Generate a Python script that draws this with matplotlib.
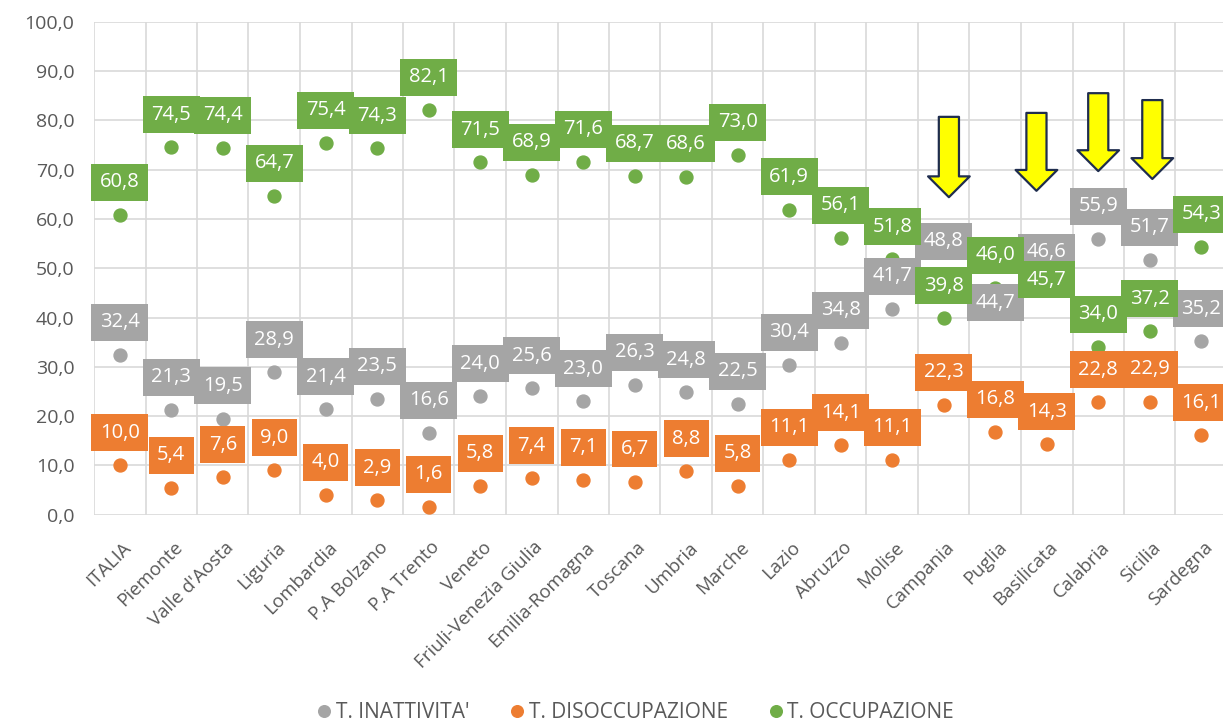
import matplotlib
matplotlib.use("Agg")
import matplotlib.pyplot as plt
from matplotlib.patches import FancyArrowPatch, ArrowStyle
from matplotlib.transforms import ScaledTranslation
from matplotlib.ticker import FuncFormatter, MultipleLocator

plt.rcParams["font.family"] = ["Open Sans", "DejaVu Sans"]

regions = ["ITALIA", "Piemonte", "Valle d'Aosta", "Liguria", "Lombardia", "P.A Bolzano",
           "P.A Trento", "Veneto", "Friuli-Venezia Giulia", "Emilia-Romagna", "Toscana",
           "Umbria", "Marche", "Lazio", "Abruzzo", "Molise", "Campania", "Puglia",
           "Basilicata", "Calabria", "Sicilia", "Sardegna"]

inattivita = [32.4, 21.3, 19.5, 28.9, 21.4, 23.5, 16.6, 24.0, 25.6, 23.0, 26.3,
              24.8, 22.5, 30.4, 34.8, 41.7, 48.8, 44.7, 46.6, 55.9, 51.7, 35.2]
disoccupazione = [10.0, 5.4, 7.6, 9.0, 4.0, 2.9, 1.6, 5.8, 7.4, 7.1, 6.7,
                  8.8, 5.8, 11.1, 14.1, 11.1, 22.3, 16.8, 14.3, 22.8, 22.9, 16.1]
occupazione = [60.8, 74.5, 74.4, 64.7, 75.4, 74.3, 82.1, 71.5, 68.9, 71.6, 68.7,
               68.6, 73.0, 61.9, 56.1, 51.8, 39.8, 46.0, 45.7, 34.0, 37.2, 54.3]

# highlight arrows (x in category units, top and tip in data units)
arrow_x = [16.1, 17.8, 19.0, 20.05]
arrow_top = [80.7, 81.5, 85.5, 84.1]
arrow_tip = [64.4, 65.7, 69.7, 68.1]

series = [
    ("T. INATTIVITA'", inattivita, "#A5A5A5"),
    ("T. DISOCCUPAZIONE", disoccupazione, "#ED7D31"),
    ("T. OCCUPAZIONE", occupazione, "#70AD47"),
]

# labels moved by hand in the original (vertical offset in points)
label_moves = {("T. INATTIVITA'", "Puglia"): -6, ("T. OCCUPAZIONE", "Basilicata"): 7}

fig = plt.figure(figsize=(12.23, 7.25), dpi=100)
ax = fig.add_axes([94 / 1223, 1 - 514.7 / 725, (1227 - 94) / 1223, (514.7 - 21.7) / 725])

x = list(range(len(regions)))
for i, (name, vals, col) in enumerate(series):
    ax.plot(x, vals, "o", color=col, markersize=9.3, label=name, zorder=3, clip_on=False)
    for xi, v in zip(x, vals):
        dy = label_moves.get((name, regions[xi]), 23.5)
        ax.annotate(f"{v:.1f}".replace(".", ","), (xi, v), xytext=(0, dy),
                    textcoords="offset points", ha="center", va="center",
                    color="white", fontsize=14.5, zorder=10 + i,
                    bbox=dict(boxstyle="square,pad=0.42", fc=col, ec="none"))

for ax_x, top, tip in zip(arrow_x, arrow_top, arrow_tip):
    arr = FancyArrowPatch((ax_x, top), (ax_x, tip),
                          arrowstyle=ArrowStyle.Simple(head_length=1.5, head_width=3.0, tail_width=1.45),
                          mutation_scale=10, fc="#FFFF00", ec="#1F2D4E", lw=1.6,
                          shrinkA=0, shrinkB=0, zorder=20)
    ax.add_patch(arr)

ax.set_xlim(-0.5, len(regions) - 0.5)
ax.set_ylim(0, 100)
ax.yaxis.set_major_locator(MultipleLocator(10))
ax.yaxis.set_major_formatter(FuncFormatter(lambda v, p: f"{v:.1f}".replace(".", ",")))
ax.set_xticks(x)
ax.set_xticks([i - 0.5 for i in range(len(regions) + 1)], minor=True)
ax.set_xticklabels(regions, rotation=45, ha="right", va="top", rotation_mode="anchor")

ax.grid(True, axis="y", which="major", color="#D9D9D9", lw=1.2)
ax.grid(True, axis="x", which="minor", color="#D9D9D9", lw=1.2)
ax.set_axisbelow(True)
for s in ax.spines.values():
    s.set_visible(False)
ax.tick_params(axis="both", which="both", length=0, colors="#595959")
ax.tick_params(axis="y", labelsize=14, pad=14)
ax.tick_params(axis="x", labelsize=13.5, pad=17)

offset = ScaledTranslation(2 / 100, 0, fig.dpi_scale_trans)
for lab in ax.get_xticklabels():
    lab.set_transform(lab.get_transform() + offset)

leg = fig.legend(loc="center", bbox_to_anchor=(634 / 1223, 1 - 713 / 725), ncol=3,
                 frameon=False, fontsize=15, handletextpad=0.05, columnspacing=1.8,
                 handlelength=1.0, markerscale=0.9)
for t in leg.get_texts():
    t.set_color("#595959")

fig.savefig("out.png", dpi=100)
